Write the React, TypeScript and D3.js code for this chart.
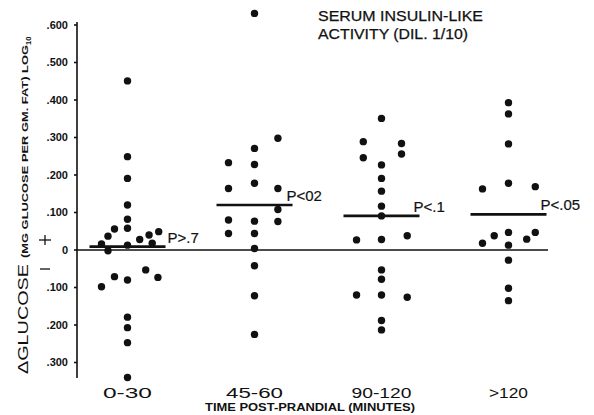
import React from "react";
import * as d3 from "d3";

const categories = ["0-30", "45-60", "90-120", ">120"];
const pLabels = ["P>.7", "P<02", "P<.1", "P<.05"];
const groupMeans = [0.009, 0.12, 0.091, 0.095];
const yTicks = [-0.3, -0.2, -0.1, 0, 0.1, 0.2, 0.3, 0.4, 0.5, 0.6];

// [column jitter, value]
const group0_30: [number, number][] = [
  [0, 0.451], [0, 0.249], [0, 0.191], [0, 0.12], [0, 0.082], [0, 0.058],
  [-0.5, 0.056], [-0.75, 0.037], [-1, 0.016], [-0.75, -0.002], [0, 0.013],
  [0.47, 0.028], [0.83, 0.04], [1.2, 0.049], [0.95, 0.018],
  [-0.5, -0.071], [-1, -0.098], [0, -0.08], [0.7, -0.053], [1.17, -0.073],
  [0, -0.179], [0, -0.207], [0, -0.247], [0, -0.34],
];
const group45_60: [number, number][] = [
  [0, 0.631], [0.9, 0.298], [0, 0.271], [-1, 0.233], [0, 0.228],
  [-1, 0.164], [0, 0.178], [0.9, 0.164], [0.9, 0.108], [0.9, 0.076],
  [-1, 0.08], [0, 0.077], [-1, 0.044], [0, 0.044], [0, 0.004],
  [0, -0.042], [0, -0.122], [0, -0.225],
];
const group90_120: [number, number][] = [
  [0, 0.351], [-0.7, 0.289], [0.77, 0.284], [-0.7, 0.246], [0.77, 0.256],
  [0, 0.227], [0, 0.191], [0, 0.157], [0, 0.117], [0, 0.091],
  [-0.96, 0.027], [0, 0.028], [0.99, 0.038], [0, -0.053], [0, -0.078],
  [-0.96, -0.12], [0, -0.12], [0.99, -0.126], [0, -0.188], [0, -0.213],
];
const group120plus: [number, number][] = [
  [0, 0.393], [0, 0.363], [0, 0.283], [-1, 0.163], [0, 0.178], [1.03, 0.169],
  [0, 0.047], [-0.55, 0.038], [-1, 0.018], [0, 0.013], [0.7, 0.029],
  [1.03, 0.047], [0, -0.027], [0, -0.102], [0, -0.135],
];
const groups = [group0_30, group45_60, group90_120, group120plus];

const W = 594;
const H = 415;
const FONT = "'Liberation Sans', Arial, Helvetica, sans-serif";
const LABEL_WIDTHS = [49, 57, 60, 39];

export default function App() {
  const x = d3.scalePoint<string>().domain(categories).range([127.5, 508.5]);
  const y = d3.scaleLinear().domain([-0.3, 0.6]).range([362.5, 25]);
  const jitter = d3.scaleLinear().domain([-1, 1]).range([-26, 26]);
  const axisX = 77;
  const ink = "#111";

  const fmt = (v: number) => {
    if (Math.abs(v) < 1e-9) return "0";
    return "." + String(Math.round(Math.abs(v) * 1000)).padStart(3, "0");
  };

  return (
    <svg
      width={W}
      height={H}
      style={{ position: "absolute", left: 0, top: 0, background: "#fff" }}
      fontFamily={FONT}
    >
      <rect x={0} y={0} width={W} height={H} fill="#fff" />
      {/* y axis */}
      <line x1={axisX} x2={axisX} y1={22} y2={378} stroke={ink} strokeWidth={1.6} />
      {yTicks.map((t) => (
        <g key={t}>
          <line x1={axisX - 3} x2={axisX} y1={y(t)} y2={y(t)} stroke={ink} strokeWidth={1.6} />
          <text
            x={68}
            y={y(t)}
            dy="0.36em"
            textAnchor="end"
            fontSize={11}
            fontWeight="bold"
            fill={ink}
          >
            {fmt(t)}
          </text>
        </g>
      ))}
      {/* zero line */}
      <line x1={axisX} x2={548} y1={y(0)} y2={y(0)} stroke={ink} strokeWidth={1.6} />
      {/* + and - signs */}
      <line x1={39} x2={51} y1={240} y2={240} stroke={ink} strokeWidth={1.3} />
      <line x1={45} x2={45} y1={235} y2={245} stroke={ink} strokeWidth={1.3} />
      <line x1={40} x2={50} y1={269} y2={269} stroke={ink} strokeWidth={1.3} />

      {/* y title */}
      <text transform="translate(28,374) rotate(-90)" fill={ink} textAnchor="start">
        <tspan fontSize={14.5} textLength={110} lengthAdjust="spacingAndGlyphs">ΔGLUCOSE</tspan>
        <tspan
          fontSize={9.5}
          fontWeight="bold"
          dx={6}
          textLength={213}
          lengthAdjust="spacingAndGlyphs"
        >
          (MG GLUCOSE PER GM. FAT) LOG
        </tspan>
        <tspan fontSize={7.5} fontWeight="bold" dy={3}>10</tspan>
      </text>

      {/* points */}
      {groups.map((g, gi) =>
        g.map(([j, v], i) => (
          <circle
            key={gi + "-" + i}
            cx={(x(categories[gi]) as number) + jitter(j)}
            cy={y(v)}
            r={3.7}
            fill={ink}
          />
        ))
      )}

      {/* mean lines and p labels */}
      {groupMeans.map((m, gi) => {
        const cx = x(categories[gi]) as number;
        return (
          <g key={"m" + gi}>
            <line x1={cx - 38} x2={cx + 38} y1={y(m)} y2={y(m)} stroke={ink} strokeWidth={2.6} />
            <text
              x={cx + (gi === 0 ? 40 : 32)}
              y={y(m) - 4}
              fontSize={15}
              fill={ink}
              stroke={ink}
              strokeWidth={0.2}
            >
              {pLabels[gi]}
            </text>
          </g>
        );
      })}

      {/* x labels */}
      {categories.map((c, i) => (
        <text
          key={c}
          x={x(c) as number}
          y={398}
          textAnchor="middle"
          fontSize={15.5}
          fill={ink}
          textLength={LABEL_WIDTHS[i]}
          lengthAdjust="spacingAndGlyphs"
        >
          {c}
        </text>
      ))}
      <text
        x={310}
        y={411}
        textAnchor="middle"
        fontSize={11.5}
        fontWeight="bold"
        fill={ink}
        textLength={210}
        lengthAdjust="spacingAndGlyphs"
      >
        TIME POST-PRANDIAL (MINUTES)
      </text>

      {/* title */}
      <text x={318} y={21} fontSize={14.5} fill={ink} stroke={ink} strokeWidth={0.25} textLength={165} lengthAdjust="spacingAndGlyphs">
        SERUM INSULIN-LIKE
      </text>
      <text x={318} y={39} fontSize={14.5} fill={ink} stroke={ink} strokeWidth={0.25} textLength={150} lengthAdjust="spacingAndGlyphs">
        ACTIVITY (DIL. 1/10)
      </text>
    </svg>
  );
}
